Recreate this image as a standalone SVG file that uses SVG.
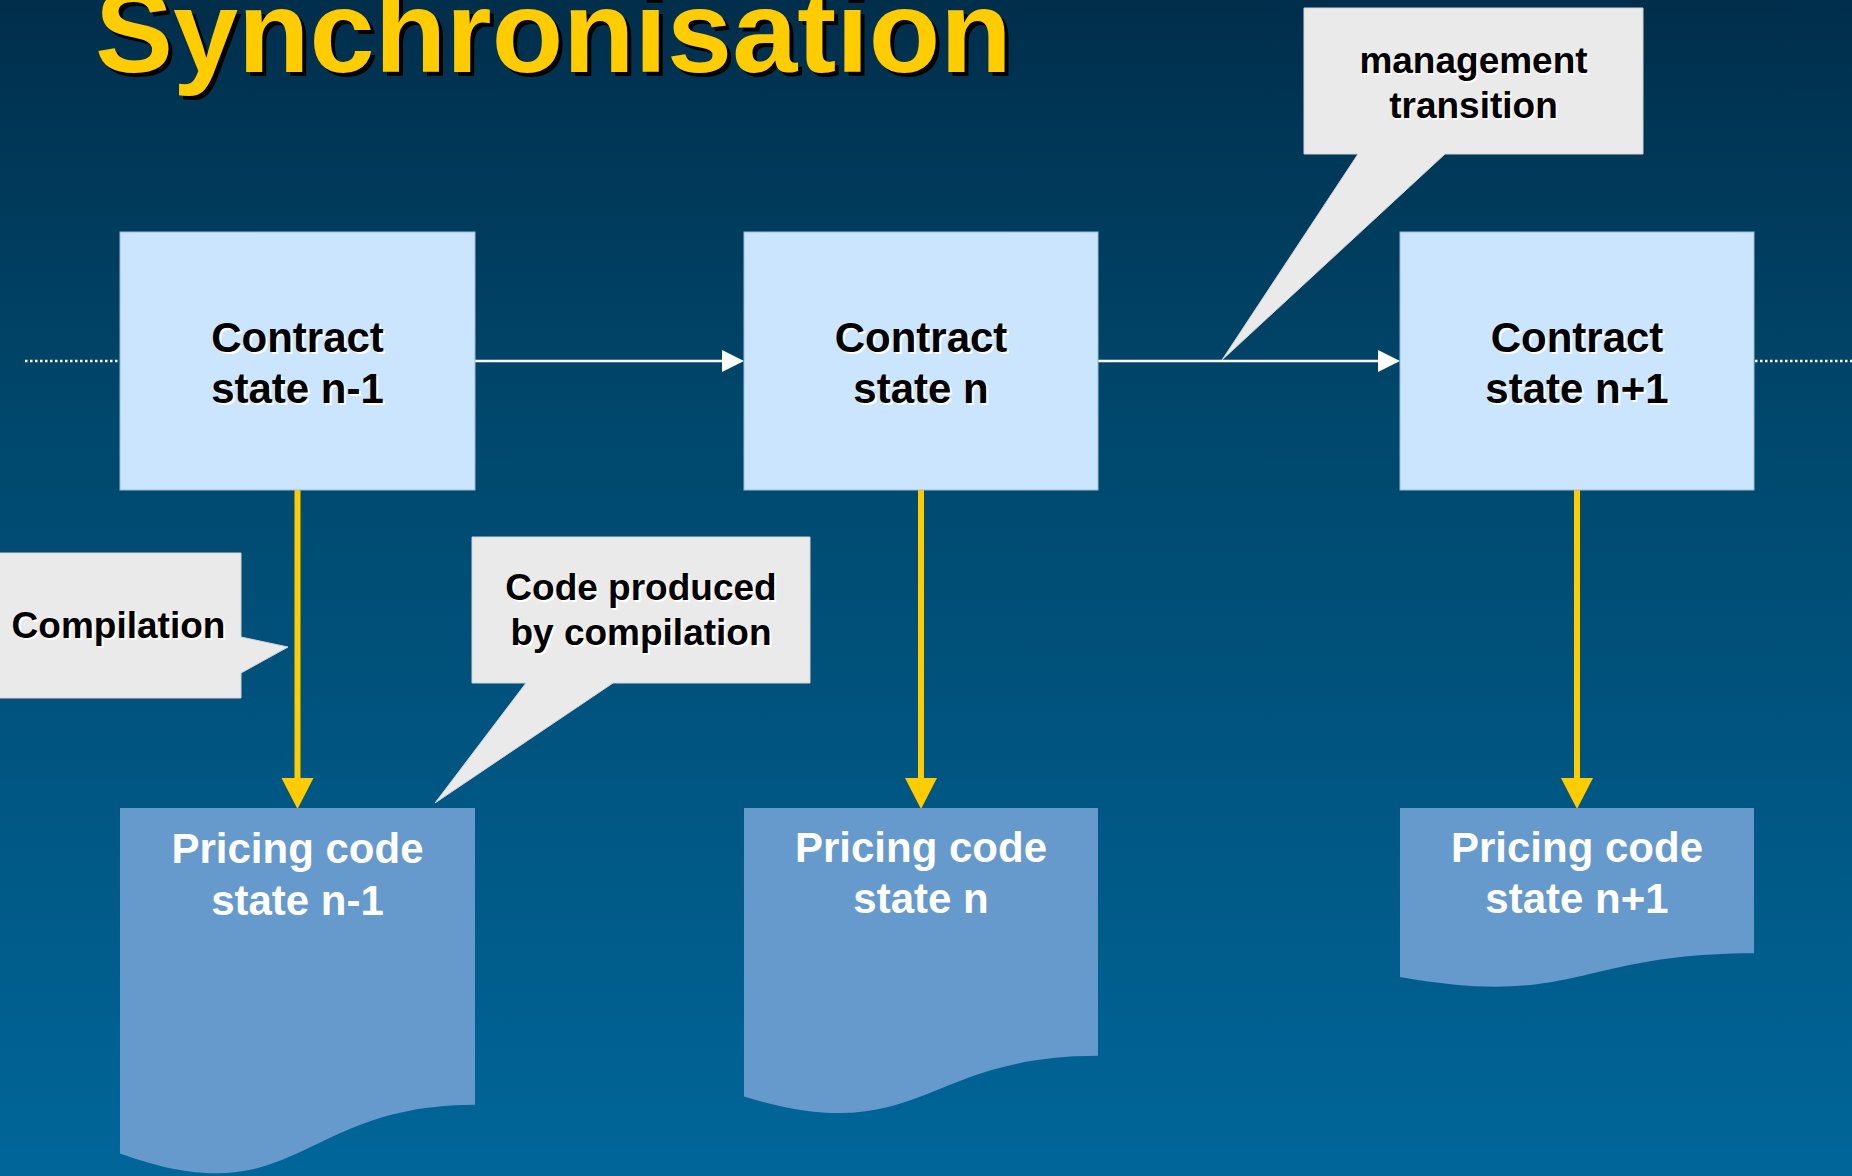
<svg xmlns="http://www.w3.org/2000/svg" width="1852" height="1176" viewBox="0 0 1852 1176">
<defs>
<linearGradient id="bg" x1="0" y1="0" x2="0" y2="1">
<stop offset="0" stop-color="#002E4B"/>
<stop offset="0.35" stop-color="#00476C"/>
<stop offset="1" stop-color="#006699"/>
</linearGradient>
<marker id="yarrow" markerUnits="userSpaceOnUse" markerWidth="32" markerHeight="32" viewBox="0 0 31 32" refX="17" refY="16" orient="auto">
<path d="M0,0 L31,16 L0,32 Z" fill="#FFCC00"/>
</marker>
<marker id="warrow" markerUnits="userSpaceOnUse" markerWidth="22" markerHeight="22" viewBox="0 0 22 22" refX="12" refY="11" orient="auto">
<path d="M0,0 L22,11 L0,22 Z" fill="#FFFFFF"/>
</marker>
</defs>
<style>
.bold{font-family:"Liberation Sans",Arial,sans-serif;font-weight:bold;text-anchor:middle}
.contract{fill:#CCE5FF;stroke:#9DBBDA;stroke-width:1}
.ctext{font-size:42px;fill:#000000}
.cshadow{font-size:42px;fill:#FFFFFF}
.doc{fill:#6699CC}
.dtext{font-size:42px;fill:#FFFFFF}
.callout{fill:#EAEAEA;stroke:#D4D4D4;stroke-width:1}
.ltext{font-size:37px;fill:#000000}
.lshadow{font-size:37px;fill:#FFFFFF}
.flow{stroke:#FFFFFF;stroke-width:2.5;fill:none}
.dots{stroke:#FFFFFF;stroke-width:2.5;stroke-dasharray:2.5 2.5;fill:none}
.comp{stroke:#FFCC00;stroke-width:6;fill:none}
</style>
<rect x="0" y="0" width="1852" height="1176" fill="url(#bg)"/>

<g id="title">
<text x="99" y="76" class="bold" style="text-anchor:start;font-size:117px" fill="#000000">Synchronisation</text>
<text x="95" y="72" class="bold" style="text-anchor:start;font-size:117px" fill="#FFCC00">Synchronisation</text>
</g>

<g id="connectors">
<line class="dots" x1="25" y1="361" x2="120" y2="361"/>
<line class="dots" x1="1755" y1="361" x2="1852" y2="361"/>
<line class="flow" x1="475" y1="361" x2="734" y2="361" marker-end="url(#warrow)"/>
<line class="flow" x1="1098" y1="361" x2="1390" y2="361" marker-end="url(#warrow)"/>
<line class="comp" x1="297.5" y1="490" x2="297.5" y2="795" marker-end="url(#yarrow)"/>
<line class="comp" x1="921" y1="490" x2="921" y2="795" marker-end="url(#yarrow)"/>
<line class="comp" x1="1577" y1="490" x2="1577" y2="795" marker-end="url(#yarrow)"/>
</g>

<g id="contract-n-1">
<rect class="contract" x="120" y="232" width="355" height="258"/>
<text class="bold cshadow" x="299.5" y="354">Contract</text>
<text class="bold ctext" x="297.5" y="352">Contract</text>
<text class="bold cshadow" x="299.5" y="405">state n-1</text>
<text class="bold ctext" x="297.5" y="403">state n-1</text>
</g>

<g id="contract-n">
<rect class="contract" x="744" y="232" width="354" height="258"/>
<text class="bold cshadow" x="923" y="354">Contract</text>
<text class="bold ctext" x="921" y="352">Contract</text>
<text class="bold cshadow" x="923" y="405">state n</text>
<text class="bold ctext" x="921" y="403">state n</text>
</g>

<g id="contract-n+1">
<rect class="contract" x="1400" y="232" width="354" height="258"/>
<text class="bold cshadow" x="1579" y="354">Contract</text>
<text class="bold ctext" x="1577" y="352">Contract</text>
<text class="bold cshadow" x="1579" y="405">state n+1</text>
<text class="bold ctext" x="1577" y="403">state n+1</text>
</g>

<g id="pricing-n-1">
<path class="doc" d="M120,808 H475 V1104.7 C297.5,1104.7 297.5,1217.8 120,1153.6 Z"/>
<text class="bold dtext" x="297.5" y="863">Pricing code</text>
<text class="bold dtext" x="297.5" y="915">state n-1</text>
</g>

<g id="pricing-n">
<path class="doc" d="M744,808 H1098 V1055.8 C921,1055.8 921,1150.2 744,1096.6 Z"/>
<text class="bold dtext" x="921" y="862">Pricing code</text>
<text class="bold dtext" x="921" y="913">state n</text>
</g>

<g id="pricing-n+1">
<path class="doc" d="M1400,808 H1754 V953.2 C1577,953.2 1577,1008.4 1400,977 Z"/>
<text class="bold dtext" x="1577" y="862">Pricing code</text>
<text class="bold dtext" x="1577" y="913">state n+1</text>
</g>

<g id="callout-management">
<path class="callout" d="M1304,8 H1643 V154 H1445 L1222,360 L1358,154 H1304 Z"/>
<text class="bold lshadow" x="1475" y="75">management</text>
<text class="bold ltext" x="1473.5" y="73">management</text>
<text class="bold lshadow" x="1475" y="120">transition</text>
<text class="bold ltext" x="1473.5" y="118">transition</text>
</g>

<g id="callout-compilation">
<path class="callout" d="M-2,553 H241 V637 L288,647 L241,673 V698 H-2 Z"/>
<text class="bold lshadow" x="120.5" y="640">Compilation</text>
<text class="bold ltext" x="118.5" y="638">Compilation</text>
</g>

<g id="callout-code">
<path class="callout" d="M472,537 H810 V683 H613 L435,803 L526,683 H472 Z"/>
<text class="bold lshadow" x="643" y="602">Code produced</text>
<text class="bold ltext" x="641" y="600">Code produced</text>
<text class="bold lshadow" x="643" y="647">by compilation</text>
<text class="bold ltext" x="641" y="645">by compilation</text>
</g>
</svg>
